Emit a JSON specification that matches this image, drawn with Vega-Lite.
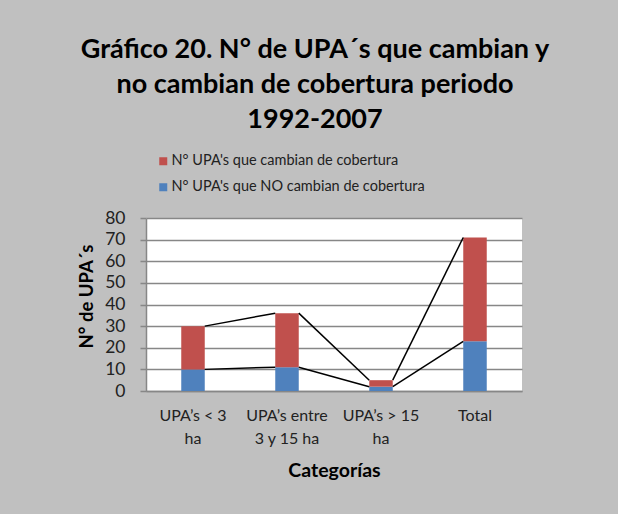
{
  "$schema": "https://vega.github.io/schema/vega-lite/v6.json",
  "width": 376,
  "height": 173,
  "autosize": "none",
  "padding": {"left": 146, "top": 218, "right": 96, "bottom": 123},
  "background": "#c0c0c0",
  "config": {"view": {"fill": "white", "stroke": null}, "font": "Lato"},
  "title": {
    "text": ["Gráfico 20. N° de UPA´s que cambian y", "no cambian de cobertura periodo", "1992-2007"],
    "fontSize": 27,
    "font": "Lato",
    "fontWeight": "bold",
    "color": "#000000",
    "lineHeight": 35,
    "anchor": "middle",
    "dx": -19,
    "offset": 20
  },
  "data": {
    "values": [
      {"cat": "UPA’s < 3 ha", "ord": 1, "serie": "N° UPA's que  NO cambian de cobertura", "n": 10},
      {"cat": "UPA’s < 3 ha", "ord": 1, "serie": "N° UPA's que cambian de cobertura", "n": 20},
      {"cat": "UPA’s entre 3 y 15 ha", "ord": 2, "serie": "N° UPA's que  NO cambian de cobertura", "n": 11},
      {"cat": "UPA’s entre 3 y 15 ha", "ord": 2, "serie": "N° UPA's que cambian de cobertura", "n": 25},
      {"cat": "UPA’s > 15 ha", "ord": 3, "serie": "N° UPA's que  NO cambian de cobertura", "n": 2},
      {"cat": "UPA’s > 15 ha", "ord": 3, "serie": "N° UPA's que cambian de cobertura", "n": 3},
      {"cat": "Total", "ord": 4, "serie": "N° UPA's que  NO cambian de cobertura", "n": 23},
      {"cat": "Total", "ord": 4, "serie": "N° UPA's que cambian de cobertura", "n": 48}
    ]
  },
  "layer": [
    {
      "mark": {"type": "bar"},
      "encoding": {
        "x": {
          "field": "cat",
          "type": "nominal",
          "sort": ["UPA’s < 3 ha", "UPA’s entre 3 y 15 ha", "UPA’s > 15 ha", "Total"],
          "scale": {"paddingInner": 0.75, "paddingOuter": 0.375},
          "axis": {
            "title": "Categorías",
            "titleFont": "Lato",
            "titleFontSize": 19.5,
            "titleFontWeight": "bold",
            "titleColor": "#000000",
            "titlePadding": 15,
            "labelAngle": 0,
            "labelFont": "Lato",
            "labelFontSize": 16,
            "labelColor": "#222222",
            "labelLineHeight": 23,
            "labelPadding": 16,
            "labelExpr": "datum.value == 'UPA’s < 3 ha' ? ['UPA’s < 3', 'ha'] : datum.value == 'UPA’s entre 3 y 15 ha' ? ['UPA’s entre', '3 y 15 ha'] : datum.value == 'UPA’s > 15 ha' ? ['UPA’s > 15', 'ha'] : datum.value",
            "ticks": false,
            "domainColor": "#878787",
            "domainWidth": 1.5
          }
        },
        "y": {
          "field": "n",
          "type": "quantitative",
          "scale": {"domain": [0, 80], "nice": false},
          "axis": {
            "title": "N° de UPA´s",
            "titleFont": "Lato",
            "titleFontSize": 18.5,
            "titleFontWeight": "bold",
            "titleColor": "#000000",
            "titlePadding": 8,
            "titleY": 78,
            "values": [0, 10, 20, 30, 40, 50, 60, 70, 80],
            "labelOverlap": false,
            "labelFont": "Lato",
            "labelFontSize": 17.5,
            "labelColor": "#222222",
            "labelPadding": 15,
            "tickSize": 6,
            "tickColor": "#878787",
            "tickWidth": 1.5,
            "grid": true,
            "gridColor": "#878787",
            "gridWidth": 1.5,
            "domainColor": "#878787",
            "domainWidth": 1.5
          }
        },
        "color": {
          "field": "serie",
          "type": "nominal",
          "scale": {
            "domain": ["N° UPA's que cambian de cobertura", "N° UPA's que  NO cambian de cobertura"],
            "range": ["#C0504D", "#4F81BD"]
          },
          "legend": {
            "title": null,
            "orient": "none",
            "legendX": 10,
            "legendY": -64,
            "direction": "vertical",
            "symbolType": "square",
            "symbolSize": 64,
            "symbolStrokeWidth": 0,
            "labelFont": "Lato",
            "labelFontSize": 14.5,
            "labelColor": "#222222",
            "labelLimit": 400,
            "rowPadding": 11,
            "labelOffset": 1
          }
        },
        "order": {"field": "serie", "sort": "ascending"}
      }
    },
    {
      "transform": [
        {"stack": "n", "groupby": ["cat"], "sort": [{"field": "serie", "order": "ascending"}], "as": ["y0", "y1"]},
        {
          "window": [
            {"op": "lead", "field": "y1", "as": "y1n"},
            {"op": "lead", "field": "cat", "as": "catn"}
          ],
          "groupby": ["serie"],
          "sort": [{"field": "ord", "order": "ascending"}]
        },
        {"filter": "datum.catn != null"}
      ],
      "mark": {"type": "rule", "color": "#000000", "strokeWidth": 1.5, "xOffset": 11.75, "x2Offset": -11.75},
      "encoding": {
        "x": {
          "field": "cat",
          "type": "nominal",
          "sort": ["UPA’s < 3 ha", "UPA’s entre 3 y 15 ha", "UPA’s > 15 ha", "Total"],
          "axis": {
            "title": "Categorías",
            "titleFont": "Lato",
            "titleFontSize": 19.5,
            "titleFontWeight": "bold",
            "titleColor": "#000000",
            "titlePadding": 15,
            "labelAngle": 0,
            "labelFont": "Lato",
            "labelFontSize": 16,
            "labelColor": "#222222",
            "labelLineHeight": 23,
            "labelPadding": 16,
            "labelExpr": "datum.value == 'UPA’s < 3 ha' ? ['UPA’s < 3', 'ha'] : datum.value == 'UPA’s entre 3 y 15 ha' ? ['UPA’s entre', '3 y 15 ha'] : datum.value == 'UPA’s > 15 ha' ? ['UPA’s > 15', 'ha'] : datum.value",
            "ticks": false,
            "domainColor": "#878787",
            "domainWidth": 1.5
          }
        },
        "x2": {"field": "catn"},
        "y": {
          "field": "y1",
          "type": "quantitative",
          "scale": {"domain": [0, 80], "nice": false},
          "axis": {
            "title": "N° de UPA´s",
            "titleFont": "Lato",
            "titleFontSize": 18.5,
            "titleFontWeight": "bold",
            "titleColor": "#000000",
            "titlePadding": 8,
            "titleY": 78,
            "values": [0, 10, 20, 30, 40, 50, 60, 70, 80],
            "labelOverlap": false,
            "labelFont": "Lato",
            "labelFontSize": 17.5,
            "labelColor": "#222222",
            "labelPadding": 15,
            "tickSize": 6,
            "tickColor": "#878787",
            "tickWidth": 1.5,
            "grid": true,
            "gridColor": "#878787",
            "gridWidth": 1.5,
            "domainColor": "#878787",
            "domainWidth": 1.5
          }
        },
        "y2": {"field": "y1n"}
      }
    }
  ]
}
